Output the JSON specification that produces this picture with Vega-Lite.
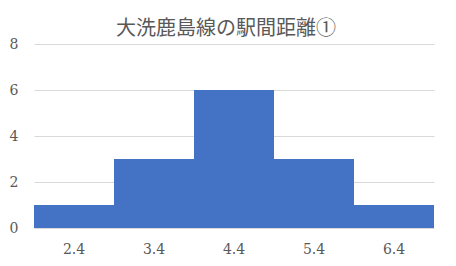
{
  "$schema": "https://vega.github.io/schema/vega-lite/v6.json",
  "autosize": {"type": "none"},
  "width": 400,
  "height": 184,
  "padding": {"left": 34, "top": 44, "right": 22, "bottom": 38},
  "background": "white",
  "title": {
    "text": "大洗鹿島線の駅間距離①",
    "font": "Noto Sans CJK JP",
    "fontSize": 20,
    "fontWeight": "normal",
    "color": "#595959",
    "anchor": "middle",
    "offset": -2,
    "dx": -8
  },
  "data": {
    "values": [
      {"distance": "2.4", "count": 1},
      {"distance": "3.4", "count": 3},
      {"distance": "4.4", "count": 6},
      {"distance": "5.4", "count": 3},
      {"distance": "6.4", "count": 1}
    ]
  },
  "mark": {"type": "bar", "color": "#4472C4"},
  "encoding": {
    "x": {
      "field": "distance",
      "type": "ordinal",
      "sort": null,
      "scale": {"paddingInner": 0, "paddingOuter": 0},
      "axis": {
        "title": null,
        "labelAngle": 0,
        "domain": false,
        "ticks": false,
        "labelPadding": 14,
        "labelFont": "DejaVu Serif",
        "labelFontSize": 14,
        "labelColor": "#595959"
      }
    },
    "y": {
      "field": "count",
      "type": "quantitative",
      "scale": {"domain": [0, 8]},
      "axis": {
        "title": null,
        "values": [0, 2, 4, 6, 8],
        "domain": false,
        "ticks": false,
        "labelPadding": 16,
        "labelFont": "DejaVu Serif",
        "labelFontSize": 14,
        "labelColor": "#595959",
        "gridColor": "#d9d9d9",
        "gridWidth": 1
      }
    }
  },
  "config": {"view": {"stroke": null}}
}
